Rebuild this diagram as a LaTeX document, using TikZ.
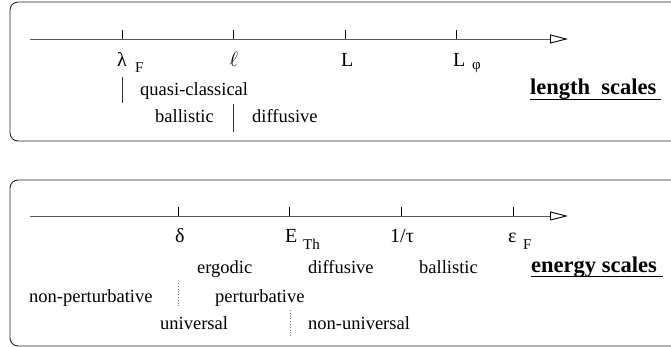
\documentclass[tikz,border=0pt]{standalone}
\usepackage{fontspec}
\setmainfont{Liberation Serif}
\usetikzlibrary{arrows.meta,positioning,calc}

\begin{document}
\begin{tikzpicture}[
  x=1pt, y=-1pt,
  panel/.style={draw=black!85, line width=0.9pt, rounded corners=8pt},
  axis/.style={draw=black!65, line width=0.9pt, -{Triangle[open, length=18pt, width=9pt, color=black]}},
  tick/.style={draw, line width=0.8pt},
  bar/.style={draw=black!80, line width=0.8pt},
  sep/.style={draw=black!55, dotted, line width=0.8pt},
  lbl/.style={font=\fontsize{18.5}{20}\selectfont, inner sep=0pt, anchor=base west},
  sym/.style={font=\fontsize{20}{22}\selectfont, inner sep=0pt, anchor=base west},
  sub/.style={font=\fontsize{15}{16}\selectfont, inner sep=0pt, anchor=base west},
  title/.style={font=\fontsize{22.5}{24}\selectfont\bfseries, inner sep=0pt, anchor=base west}
]
\clip (0,0) rectangle (671,347);
\useasboundingbox (0,0) rectangle (671,347);

% length scales
\draw[panel] (10,2) rectangle (690,141);
\coordinate (lstart) at (30,39);
\coordinate (lend) at (568,39);
\draw[axis] (lstart) -- (lend);
\foreach \name/\x in {lamF/122, ell/233, len/345, lphi/456}
  \coordinate (\name) at (\x,39);
\foreach \name in {lamF, ell, len, lphi}
  \draw[tick] (\name) -- ++(0,-9);

\node[sym] (lam) at (117,67) {λ};
\node[sub] (lamsub) at (135,73) {F};
\node[sym, anchor=base] (ellsym) at (234,67) {$\ell$};
\node[sym] (Lsym) at (341,67) {L};
\node[sym] (Lphi) at (453,67) {L};
\node[sub] (phisub) at (472,70) {φ};

\coordinate (b1top) at (122,77);
\coordinate (b1bot) at (122,103);
\coordinate (b2top) at (233,104);
\coordinate (b2bot) at (233,132);
\draw[bar] (b1top) -- (b1bot);
\draw[bar] (b2top) -- (b2bot);

\node[lbl] (quasi) at (140,96) {quasi-classical};
\node[lbl] (lball) at (155,123) {ballistic};
\node[lbl] (ldiff) at (252,123) {diffusive};
\node[title] (ltitle) at (530,95) {length\ \ scales};
\draw[line width=0.9pt] ([yshift=-4pt]ltitle.base west) -- ([yshift=-4pt, xshift=4pt]ltitle.base east);

% energy scales
\draw[panel] (10,180) rectangle (690,346);
\coordinate (estart) at (30,216);
\coordinate (eend) at (568,216);
\draw[axis] (estart) -- (eend);
\foreach \name/\x in {delta/178, eth/289, tau/401, epsF/513}
  \coordinate (\name) at (\x,216);
\foreach \name in {delta, eth, tau, epsF}
  \draw[tick] (\name) -- ++(0,-9);

\node[sym] (dsym) at (175,243) {δ};
\node[sym] (Esym) at (285,243) {E};
\node[sub] (Esub) at (303,249) {Th};
\node[sym] (tsym) at (390,243) {1/τ};
\node[sym] (epsym) at (508,243) {ε};
\node[sub] (epsub) at (523,249) {F};

\coordinate (d1top) at (178,283);
\coordinate (d1bot) at (178,308);
\coordinate (d2top) at (290,310);
\coordinate (d2bot) at (290,338);
\draw[sep] (d1top) -- (d1bot);
\draw[sep] (d2top) -- (d2bot);

\node[lbl] (ergo) at (197,273) {ergodic};
\node[lbl] (ediff) at (308,273) {diffusive};
\node[lbl] (eball) at (419,273) {ballistic};
\node[title] (etitle) at (531,272) {energy scales};
\draw[line width=0.9pt] ([yshift=-4pt]etitle.base west) -- ([yshift=-4pt, xshift=6pt]etitle.base east);
\node[lbl] (nonpert) at (29,302) {non-perturbative};
\node[lbl] (pert) at (215,302) {perturbative};
\node[lbl] (univ) at (160,329) {universal};
\node[lbl] (nonuniv) at (308,329) {non-universal};
\end{tikzpicture}
\end{document}
